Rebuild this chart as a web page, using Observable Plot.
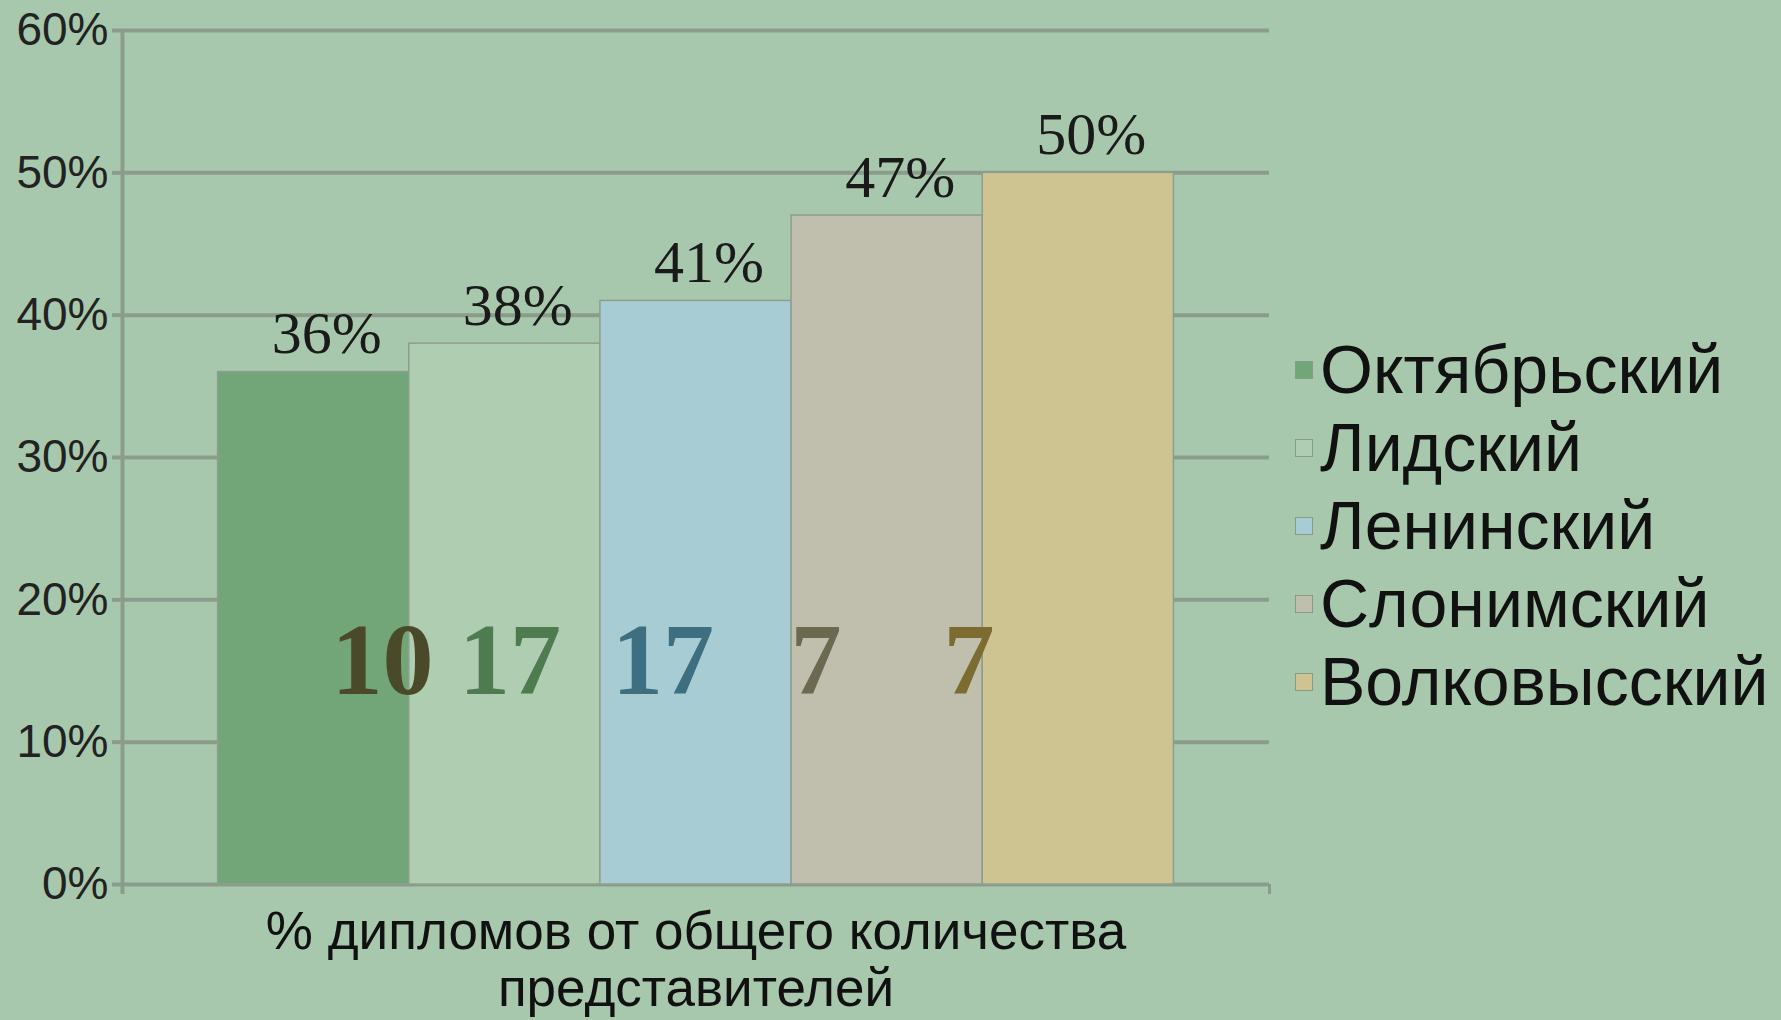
<!DOCTYPE html>
<html>
<head>
<meta charset="utf-8">
<script src="https://cdn.jsdelivr.net/npm/d3@7"></script>
<script src="https://cdn.jsdelivr.net/npm/@observablehq/plot@0.6"></script>
<style>
  html, body { margin: 0; padding: 0; background: #a8c8ad; }
  #wrap { position: relative; width: 1781px; height: 1020px; overflow: hidden; }
  #legend { position: absolute; left: 1295px; top: 330px; font-family: "Liberation Sans", Arial, sans-serif; font-size: 68px; color: #111; }
  .row { display: flex; align-items: center; height: 78px; white-space: nowrap; }
  .sw { width: 16px; height: 16px; border: 1px solid #8a9a8a; margin-right: 7px; margin-top: 2px; flex: none; }
</style>
</head>
<body>
<div id="wrap"><div id="chart"></div><div id="legend"></div></div>
<script>
// ---- data ----
const categories = ["Октябрьский", "Лидский", "Ленинский", "Слонимский", "Волковысский"];
const shares = [0.36, 0.38, 0.41, 0.47, 0.50];
const counts = [10, 17, 17, 7, 7];
const barColors = ["#72a577", "#afcdb0", "#a8ccd4", "#c0beac", "#cdc492"];
const countColors = ["#4a4a2a", "#4e7b50", "#3d6f80", "#6b6a50", "#7d6c32"];
const yTicks = [0, 0.1, 0.2, 0.3, 0.4, 0.5, 0.6];
const xLabel = "% дипломов от общего количества\nпредставителей";

const data = categories.map((c, i) => ({i, name: c, value: shares[i], color: barColors[i]}));
const gaps = [1, 2, 3, 4];
const countLine = counts.map((c, k) => k === 0 ? String(c) : " ".repeat(gaps[k - 1]) + c).join("");
const pct = d3.format(".0%");

const gridColor = "#8a9d8c";

const chart = Plot.plot({
  width: 1285,
  height: 1020,
  marginLeft: 122,
  marginRight: 16,
  marginTop: 30,
  marginBottom: 136,
  style: {background: "transparent", fontFamily: "Liberation Sans, Arial, sans-serif"},
  x: {type: "linear", domain: [-0.5, 5.5], axis: null},
  y: {domain: [0, 0.6], label: null},
  marks: [
    Plot.ruleY(yTicks, {x1: -0.5, x2: 5.5, stroke: gridColor, strokeWidth: 4}),
    Plot.rectY(data, {x1: d => d.i, x2: d => d.i + 1, y: "value", fill: "color", stroke: "#8e9e8e", strokeWidth: 1.5}),
    Plot.ruleX([-0.5], {y1: 0.6, y2: -0.007, stroke: gridColor, strokeWidth: 4}),
    Plot.ruleX([5.5], {y1: 0, y2: -0.007, stroke: gridColor, strokeWidth: 3}),
    Plot.axisY({ticks: yTicks, tickFormat: pct, tickSize: 10, tickPadding: 4, stroke: gridColor, strokeWidth: 4, fill: "#222", fontSize: 46, fontFamily: "Liberation Sans, Arial, sans-serif", label: null}),
    Plot.text(data, {x: d => d.i + 0.5, y: "value", text: d => pct(d.value), dx: 13, dy: -19, lineAnchor: "bottom", fontFamily: "Liberation Serif, Times New Roman, serif", fontSize: 60, fill: "#1a1a1a"}),
    Plot.text([countLine], {x: () => (categories.length - 1) / 2 + 0.5, y: () => 0.134, text: d => d, dx: -33, textAnchor: "middle", lineAnchor: "bottom", fontFamily: "Liberation Serif, Times New Roman, serif", fontWeight: "bold", fontSize: 102, fill: countColors[0]}),
    Plot.text([xLabel], {x: () => categories.length / 2, frameAnchor: "bottom", text: d => d, lineAnchor: "top", dy: 25, lineHeight: 1.06, fontSize: 53, fontFamily: "Liberation Sans, Arial, sans-serif", fill: "#111"})
  ]
});
document.getElementById("chart").appendChild(chart);

// colour each count separately
chart.querySelectorAll("text").forEach(t => {
  if (t.textContent === countLine) {
    t.textContent = "";
    t.setAttribute("xml:space", "preserve");
    t.style.whiteSpace = "pre";
    const parts = countLine.split(/(\d+)/).filter(s => s.length);
    let k = 0;
    parts.forEach(p => {
      const ts = document.createElementNS("http://www.w3.org/2000/svg", "tspan");
      ts.textContent = p;
      if (/\d/.test(p)) { ts.setAttribute("fill", countColors[k]); k++; }
      t.appendChild(ts);
    });
  }
});

// legend
const legend = document.getElementById("legend");
categories.forEach((c, i) => {
  const row = document.createElement("div");
  row.className = "row";
  const sw = document.createElement("div");
  sw.className = "sw";
  sw.style.background = barColors[i];
  const lab = document.createElement("span");
  lab.textContent = c;
  row.appendChild(sw);
  row.appendChild(lab);
  legend.appendChild(row);
});
</script>
</body>
</html>
